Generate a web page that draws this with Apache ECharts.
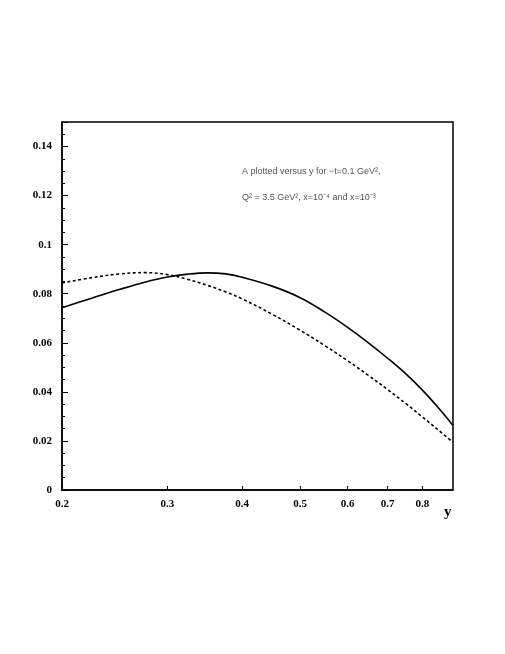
<!DOCTYPE html>
<html>
<head>
<meta charset="utf-8">
<script src="https://cdn.jsdelivr.net/npm/echarts@6/dist/echarts.min.js"></script>
<style>
    body{ margin: 0; background: #fff; }
    #myChart{ width: 505px; height: 654px; }
</style>
</head>
<body>
<div id="myChart"></div>
<script>
    // y values (horizontal axis, log scale)
    const yPoints = [0.2, 0.225, 0.25, 0.275, 0.3, 0.325, 0.35, 0.375, 0.4, 0.45, 0.5, 0.55, 0.6, 0.65, 0.7, 0.75, 0.8, 0.85, 0.9]
    // x = 10^-4 (solid)
    const solidA = [0.0743, 0.0783, 0.0818, 0.0847, 0.0868, 0.0880, 0.0885, 0.0881, 0.0867, 0.0830, 0.0784, 0.0725, 0.0663, 0.0600, 0.0537, 0.0474, 0.0407, 0.0336, 0.0263]
    // x = 10^-3 (dashed)
    const dashedA = [0.0844, 0.0866, 0.0881, 0.0886, 0.0878, 0.0858, 0.0834, 0.0808, 0.0779, 0.0715, 0.0651, 0.0588, 0.0527, 0.0467, 0.0409, 0.0353, 0.0298, 0.0245, 0.0194]
    const xTickLabels = [0.2, 0.3, 0.4, 0.5, 0.6, 0.7, 0.8]

    const lg = v => Math.log10(v)
    const pairs = arr => yPoints.map((y, i) => [lg(y), arr[i]])
    const labelFont = {
        fontFamily: 'Liberation Serif',
        fontWeight: 'bold',
        fontSize: 11,
        color: '#000'
    }

    let myChart = echarts.init(document.getElementById('myChart'))
    myChart.setOption({
        animation: false,
        backgroundColor: '#fff',
        title: {
            text: 'A plotted versus y for \u2212t=0.1 GeV\u00b2,\n\nQ\u00b2 = 3.5 GeV\u00b2, x=10\u207b\u2074 and x=10\u207b\u00b3',
            left: 237,
            top: 160,
            textStyle: {
                fontFamily: 'Liberation Sans',
                fontWeight: 'normal',
                fontSize: 9,
                lineHeight: 13,
                color: '#555'
            }
        },
        graphic: [{
            type: 'text',
            left: 444,
            top: 505,
            style: {
                text: 'y',
                font: 'bold 15px "Liberation Serif"',
                fill: '#000'
            }
        }],
        grid: {
            left: 62,
            right: 52,
            top: 122,
            bottom: 164,
            show: true,
            borderColor: '#000',
            borderWidth: 1.5,
            backgroundColor: 'transparent'
        },
        xAxis: {
            type: 'value',
            min: lg(0.2),
            max: lg(0.9),
            axisLine: {lineStyle: {color: '#000', width: 1.5}},
            splitLine: {show: false},
            axisTick: {
                inside: true,
                length: 4,
                lineStyle: {color: '#000', width: 1},
                customValues: xTickLabels.map(lg)
            },
            axisLabel: {
                ...labelFont,
                margin: 9,
                customValues: xTickLabels.map(lg),
                formatter: v => String(Math.round(Math.pow(10, v) * 10) / 10)
            }
        },
        yAxis: {
            type: 'value',
            min: 0,
            max: 0.15,
            interval: 0.02,
            axisLine: {lineStyle: {color: '#000', width: 1.5}},
            splitLine: {show: false},
            axisTick: {inside: true, length: 6, lineStyle: {color: '#000', width: 1}},
            minorTick: {show: true, splitNumber: 4, length: 3, lineStyle: {color: '#000', width: 1}},
            axisLabel: {
                ...labelFont,
                margin: 10,
                showMaxLabel: false
            }
        },
        series: [
            {
                name: 'x=1e-4',
                type: 'line',
                smooth: 0.4,
                symbol: 'none',
                lineStyle: {color: '#000', width: 1.6},
                data: pairs(solidA)
            },
            {
                name: 'x=1e-3',
                type: 'line',
                smooth: 0.4,
                symbol: 'none',
                lineStyle: {color: '#000', width: 1.6, type: [3, 2.5]},
                data: pairs(dashedA)
            }
        ]
    })
</script>
</body>
</html>
